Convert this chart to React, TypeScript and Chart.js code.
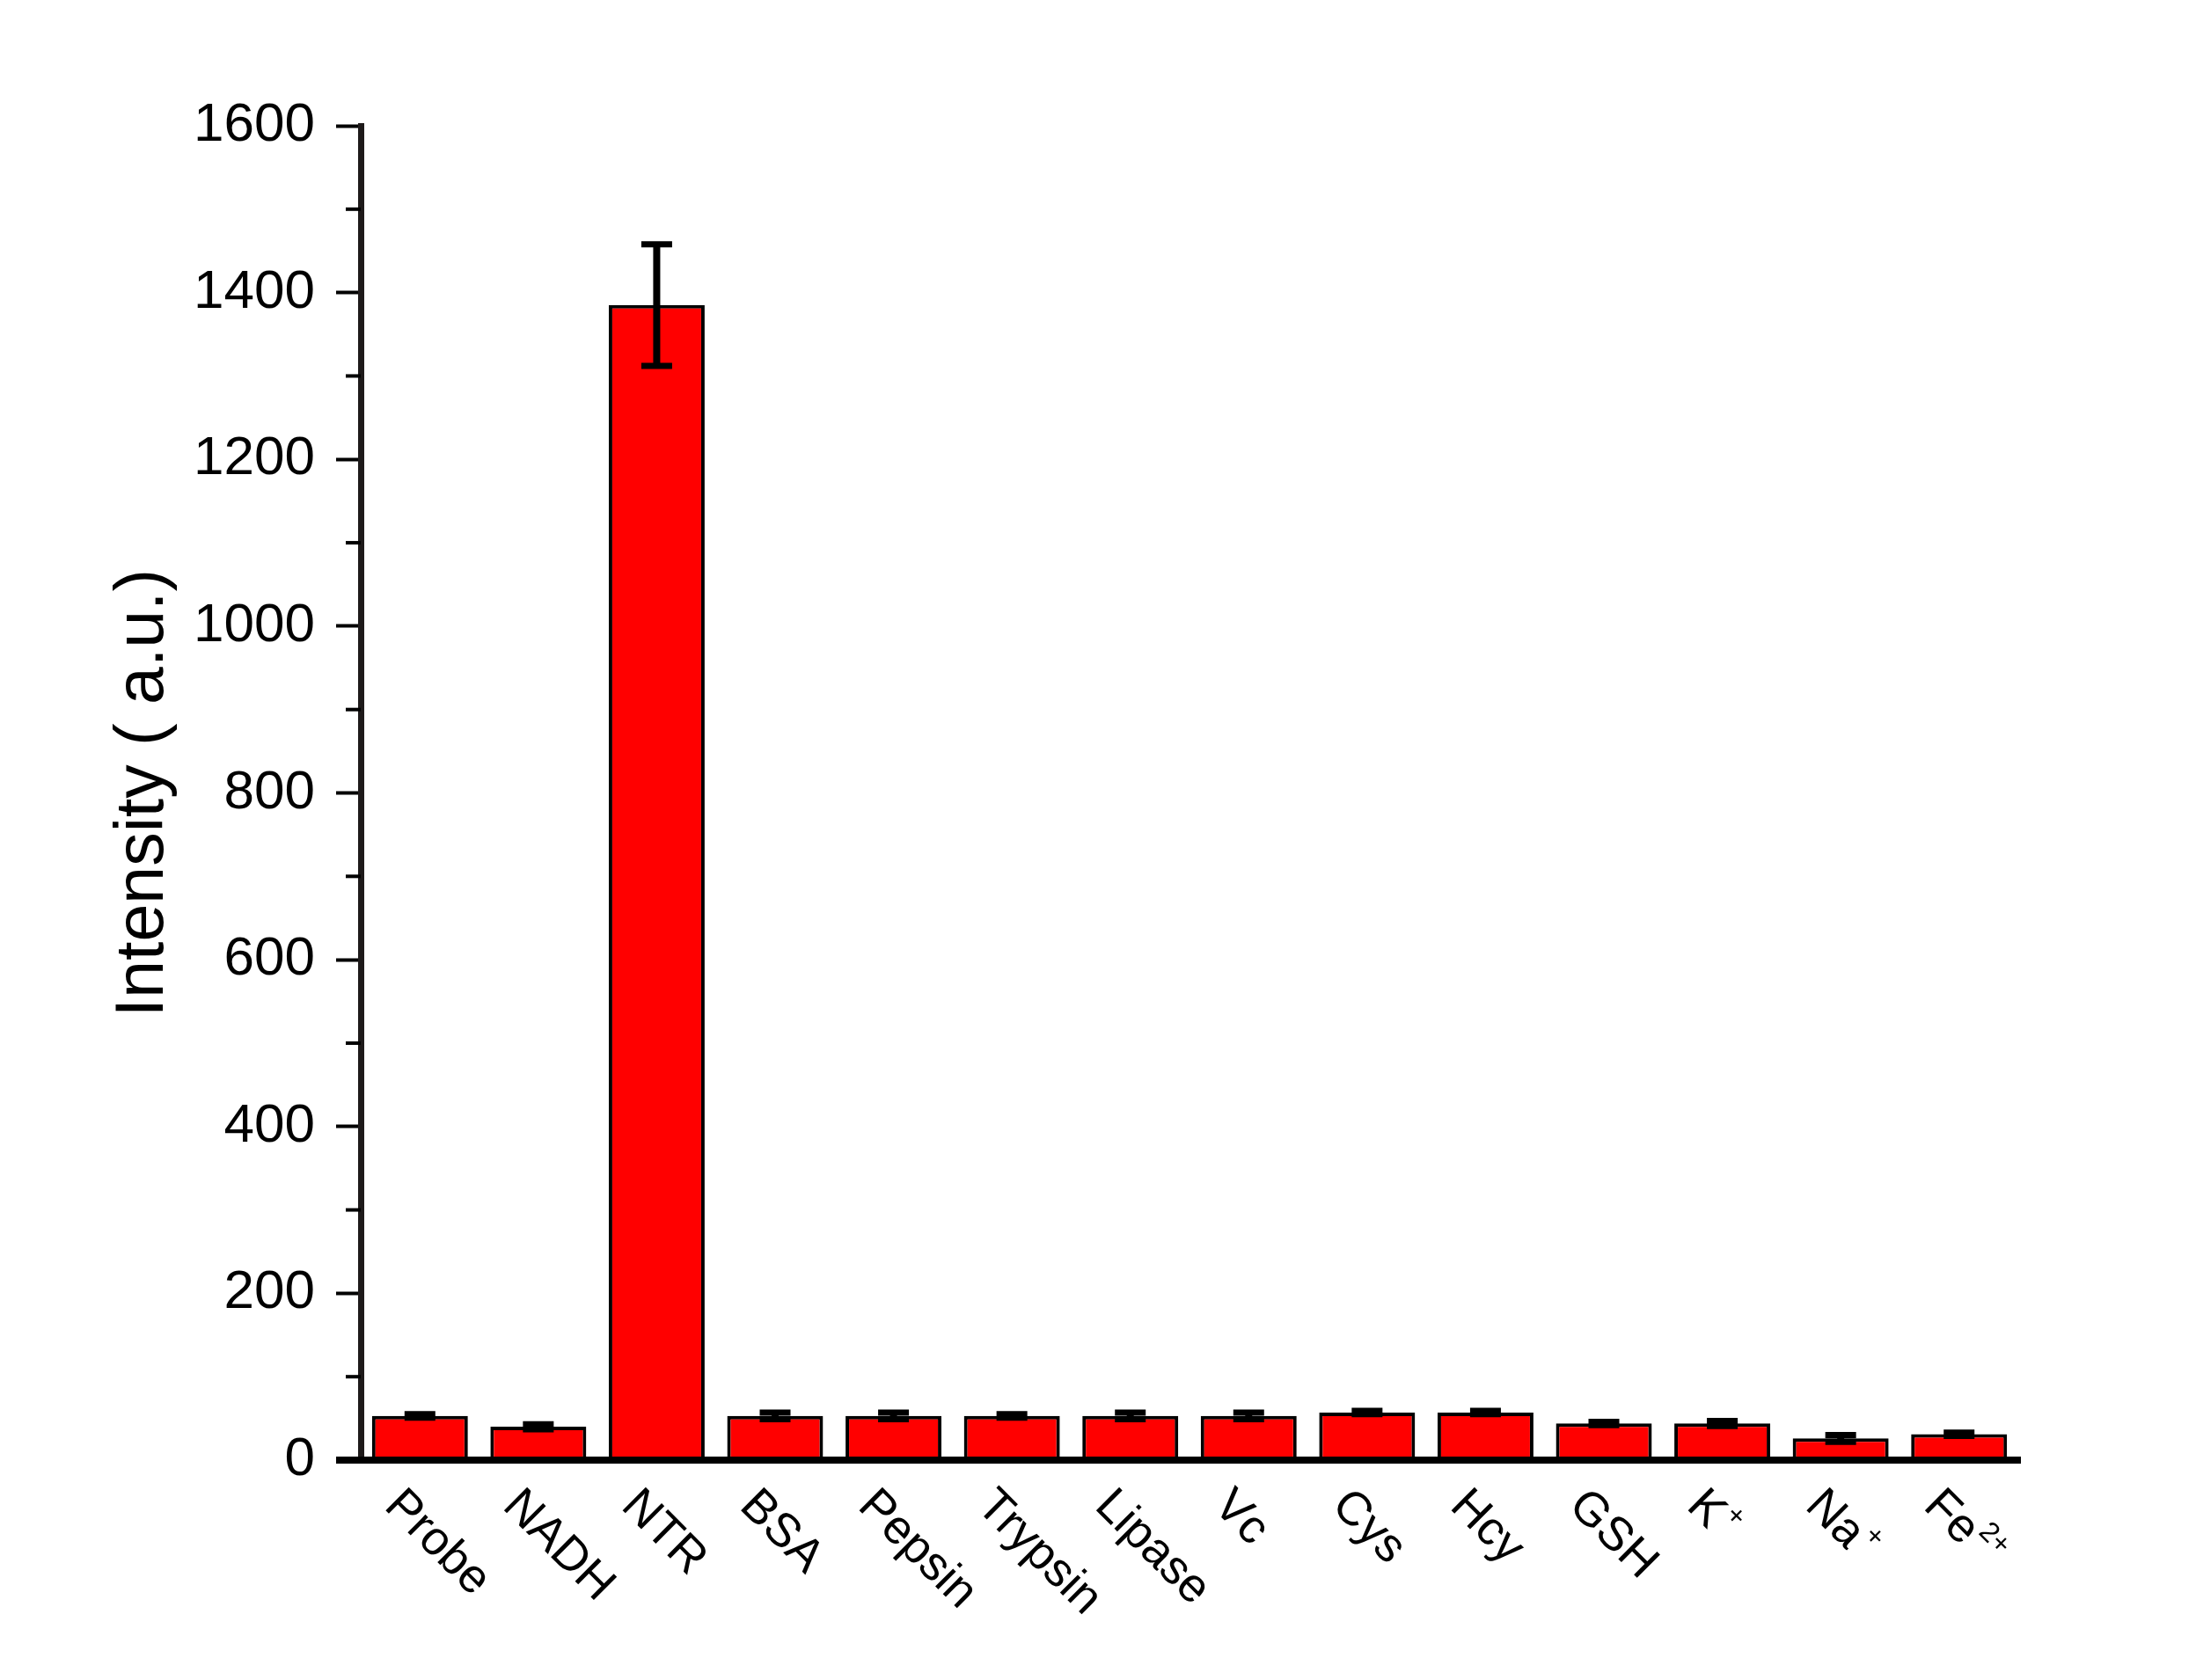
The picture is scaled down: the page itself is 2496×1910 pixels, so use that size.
import React, { useEffect, useRef } from "react";
import { Chart, registerables } from "chart.js";

Chart.register(...registerables);

const categories = ["Probe", "NADH", "NTR", "BSA", "Pepsin", "Trypsin", "Lipase", "Vc", "Cys", "Hcy", "GSH", "K", "Na", "Fe"];
const superscripts = ["", "", "", "", "", "", "", "", "", "", "", "+", "+", "2+"];
const intensity = [53, 40, 1385, 53, 53, 53, 53, 53, 57, 57, 44, 44, 26, 31];
const errors = [2, 3, 73, 4, 4, 2, 4, 4, 2, 2, 2, 3, 4, 2];
const yMajorTicks = [0, 200, 400, 600, 800, 1000, 1200, 1400, 1600];
const yMinorTicks = [100, 300, 500, 700, 900, 1100, 1300, 1500];
const yTitle = "Intensity ( a.u.)";

const FONT = "'Liberation Sans', Arial, Helvetica, sans-serif";

const decorations = {
  id: "decorations",
  afterDatasetsDraw(chart: any) {
    const { ctx, scales, chartArea } = chart;
    const x = scales.x;
    const y = scales.y;
    const meta = chart.getDatasetMeta(0);
    ctx.save();
    // error bars
    ctx.strokeStyle = "#000";
    ctx.lineCap = "butt";
    meta.data.forEach((bar: any, i: number) => {
      const cx = bar.x;
      const yTop = y.getPixelForValue(intensity[i] + errors[i]);
      const yBot = y.getPixelForValue(intensity[i] - errors[i]);
      const half = 17.5;
      ctx.lineWidth = 8;
      ctx.beginPath();
      ctx.moveTo(cx, yTop);
      ctx.lineTo(cx, yBot);
      ctx.stroke();
      ctx.lineWidth = 7;
      ctx.beginPath();
      ctx.moveTo(cx - half, yTop);
      ctx.lineTo(cx + half, yTop);
      ctx.moveTo(cx - half, yBot);
      ctx.lineTo(cx + half, yBot);
      ctx.stroke();
    });

    // minor ticks on y axis
    ctx.strokeStyle = "#000";
    ctx.lineWidth = 4;
    yMinorTicks.forEach((v) => {
      const py = y.getPixelForValue(v);
      ctx.beginPath();
      ctx.moveTo(chartArea.left - 17, py);
      ctx.lineTo(chartArea.left, py);
      ctx.stroke();
    });

    // x axis line (extends to the left tick end)
    const y0 = y.getPixelForValue(0);
    ctx.lineWidth = 8;
    ctx.beginPath();
    ctx.moveTo(chartArea.left - 28, y0);
    ctx.lineTo(chartArea.right + 3, y0);
    ctx.stroke();

    // rotated category labels
    ctx.fillStyle = "#000";
    const angle = (45 * Math.PI) / 180;
    categories.forEach((label, i) => {
      const tx = x.getPixelForValue(i);
      ctx.save();
      ctx.translate(tx - 42, chartArea.bottom + 54);
      ctx.rotate(angle);
      ctx.font = `54px ${FONT}`;
      ctx.textAlign = "left";
      ctx.textBaseline = "alphabetic";
      ctx.fillText(label, 0, 0);
      const sup = superscripts[i];
      if (sup) {
        const w = ctx.measureText(label).width;
        ctx.font = `32px ${FONT}`;
        ctx.fillText(sup, w + 2, -24);
      }
      ctx.restore();
    });
    ctx.restore();
  },
};

export default function App() {
  const canvasRef = useRef<HTMLCanvasElement | null>(null);

  useEffect(() => {
    const canvas = canvasRef.current;
    if (!canvas) return;
    const chart = new Chart(canvas, {
      type: "bar",
      data: {
        labels: categories,
        datasets: [
          {
            label: "Intensity",
            data: intensity,
            backgroundColor: "#ff0000",
            borderColor: "#000000",
            borderWidth: 4,
            borderSkipped: "start",
            categoryPercentage: 1,
            barPercentage: 0.81,
          },
        ],
      },
      options: {
        responsive: false,
        maintainAspectRatio: false,
        animation: false,
        devicePixelRatio: 1,
        layout: { padding: { left: 0, right: 202, top: 143, bottom: 0 } },
        plugins: {
          legend: { display: false },
          tooltip: { enabled: false },
          title: { display: false },
        },
        scales: {
          x: {
            type: "category",
            offset: true,
            grid: { display: false, drawTicks: false },
            border: { display: false },
            ticks: { display: false },
            afterFit: (scale: any) => {
              scale.height = 250;
            },
          },
          y: {
            type: "linear",
            min: 0,
            max: 1600,
            afterBuildTicks: (scale: any) => {
              scale.ticks = yMajorTicks.map((v) => ({ value: v }));
            },
            ticks: {
              padding: 24,
              color: "#000",
              font: { size: 62, family: FONT },
              callback: (v: any) => String(v),
            },
            grid: {
              drawOnChartArea: false,
              drawTicks: true,
              tickLength: 28,
              tickWidth: 4,
              tickColor: "#000",
            },
            border: { display: true, width: 7, color: "#1e1a1a" },
            title: {
              display: true,
              text: yTitle,
              color: "#000",
              font: { size: 77, family: FONT },
              padding: { top: 118, bottom: 0 },
            },
            afterFit: (scale: any) => {
              scale.width = 410;
            },
          },
        },
      },
      plugins: [decorations],
    });
    return () => chart.destroy();
  }, []);

  return (
    <div style={{ position: "absolute", left: 0, top: 0, width: 2496, height: 1910, background: "#fff" }}>
      <canvas ref={canvasRef} width={2496} height={1910} style={{ display: "block", width: 2496, height: 1910 }} />
    </div>
  );
}
